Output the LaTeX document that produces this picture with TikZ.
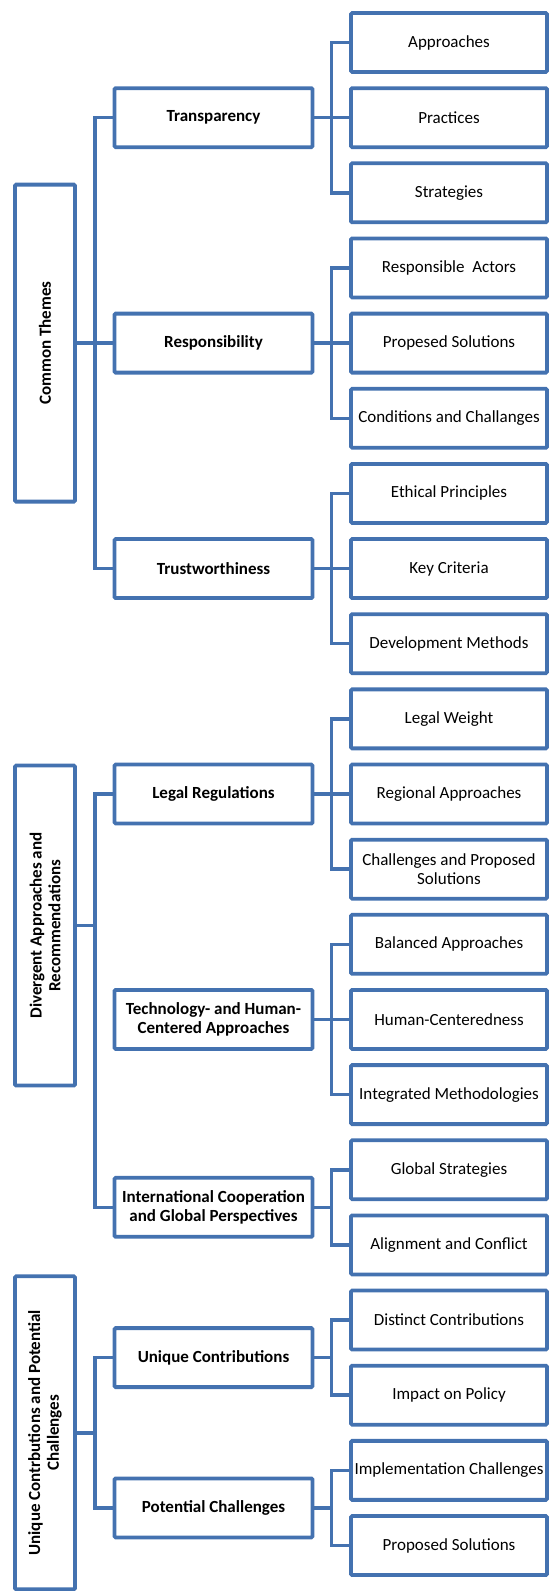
\documentclass[tikz,border=0pt]{standalone}
\usepackage{fontspec}
\setmainfont{Carlito}
\definecolor{boxblue}{RGB}{68,114,176}
\begin{document}
\begin{tikzpicture}[x=1pt,y=-1pt,
  base/.style={draw=boxblue,line width=3.8pt,fill=white,inner sep=0pt,outer sep=0pt,
    align=center,rounded corners=1.2pt,font=\fontsize{17}{18.7}\selectfont},
  leaf/.style={base,minimum width=196pt,minimum height=59pt},
  mid/.style={base,minimum width=198pt,minimum height=59pt,font=\fontsize{17}{18.7}\selectfont\bfseries},
  top/.style={base,rotate=90,minimum height=60pt,font=\fontsize{17}{18.7}\selectfont\bfseries},
  conn/.style={draw=boxblue,line width=3.5pt}]
\useasboundingbox (0,0) rectangle (549,1591);
\def\P{75.15}
% leaves
\node[leaf] (l0) at (449,{42.5+\P*0}) {Approaches};
\node[leaf] (l1) at (449,{42.5+\P*1}) {Practices};
\node[leaf] (l2) at (449,{42.5+\P*2}) {Strategies};
\node[leaf] (l3) at (449,{42.5+\P*3}) {Responsible\ \ Actors};
\node[leaf] (l4) at (449,{42.5+\P*4}) {Propesed Solutions};
\node[leaf] (l5) at (449,{42.5+\P*5}) {Conditions and Challanges};
\node[leaf] (l6) at (449,{42.5+\P*6}) {Ethical Principles};
\node[leaf] (l7) at (449,{42.5+\P*7}) {Key Criteria};
\node[leaf] (l8) at (449,{42.5+\P*8}) {Development Methods};
\node[leaf] (l9) at (449,{42.5+\P*9}) {Legal Weight};
\node[leaf] (l10) at (449,{42.5+\P*10}) {Regional Approaches};
\node[leaf] (l11) at (449,{42.5+\P*11}) {Challenges and Proposed\\Solutions};
\node[leaf] (l12) at (449,{42.5+\P*12}) {Balanced Approaches};
\node[leaf] (l13) at (449,{42.5+\P*13}) {Human-Centeredness};
\node[leaf] (l14) at (449,{42.5+\P*14}) {Integrated Methodologies};
\node[leaf] (l15) at (449,{42.5+\P*15}) {Global Strategies};
\node[leaf] (l16) at (449,{42.5+\P*16}) {Alignment and Conflict};
\node[leaf] (l17) at (449,{42.5+\P*17}) {Distinct Contributions};
\node[leaf] (l18) at (449,{42.5+\P*18}) {Impact on Policy};
\node[leaf] (l19) at (449,{42.5+\P*19}) {Implementation Challenges};
\node[leaf] (l20) at (449,{42.5+\P*20}) {Proposed Solutions};
% middle
\node[mid] (m1) at (213.5,{42.5+\P*1}) {Transparency};
\node[mid] (m2) at (213.5,{42.5+\P*4}) {Responsibility};
\node[mid] (m3) at (213.5,{42.5+\P*7}) {Trustworthiness};
\node[mid] (m4) at (213.5,{42.5+\P*10}) {Legal Regulations};
\node[mid] (m5) at (213.5,{42.5+\P*13}) {Technology- and Human-\\Centered Approaches};
\node[mid] (m6) at (213.5,{42.5+\P*15.5}) {International Cooperation\\and Global Perspectives};
\node[mid] (m7) at (213.5,{42.5+\P*17.5}) {Unique Contributions};
\node[mid] (m8) at (213.5,{42.5+\P*19.5}) {Potential Challenges};
% top level (rotated)
\node[top,minimum width=317pt] (t1) at (45,{42.5+\P*4}) {Common Themes};
\node[top,minimum width=320pt] (t2) at (45,{42.5+\P*11.75}) {Divergent Approaches and\\Recommendations};
\node[top,minimum width=313pt] (t3) at (45,{42.5+\P*18.5}) {Unique Contrbutions and Potential\\Challenges};
% connectors: middle -> leaves
\path (m1.east) ++(19,0) coordinate (b1);
\path (m2.east) ++(19,0) coordinate (b2);
\path (m3.east) ++(19,0) coordinate (b3);
\path (m4.east) ++(19,0) coordinate (b4);
\path (m5.east) ++(19,0) coordinate (b5);
\path (m6.east) ++(19,0) coordinate (b6);
\path (m7.east) ++(19,0) coordinate (b7);
\path (m8.east) ++(19,0) coordinate (b8);
\draw[conn] (l0.west) -| (b1) |- (l2.west); \draw[conn] (m1.east) -- (l1.west);
\draw[conn] (l3.west) -| (b2) |- (l5.west); \draw[conn] (m2.east) -- (l4.west);
\draw[conn] (l6.west) -| (b3) |- (l8.west); \draw[conn] (m3.east) -- (l7.west);
\draw[conn] (l9.west) -| (b4) |- (l11.west); \draw[conn] (m4.east) -- (l10.west);
\draw[conn] (l12.west) -| (b5) |- (l14.west); \draw[conn] (m5.east) -- (l13.west);
\draw[conn] (l15.west) -| (b6) |- (l16.west); \draw[conn] (m6.east) -- (b6);
\draw[conn] (l17.west) -| (b7) |- (l18.west); \draw[conn] (m7.east) -- (b7);
\draw[conn] (l19.west) -| (b8) |- (l20.west); \draw[conn] (m8.east) -- (b8);
% connectors: top -> middle (rotated nodes: right side is .south)
\path (t1.south) ++(20,0) coordinate (c1);
\path (t2.south) ++(20,0) coordinate (c2);
\path (t3.south) ++(20,0) coordinate (c3);
\draw[conn] (m1.west) -| (c1) |- (m3.west); \draw[conn] (t1.south) -- (m2.west);
\draw[conn] (m4.west) -| (c2) |- (m6.west); \draw[conn] (t2.south) -- (c2);
\draw[conn] (m7.west) -| (c3) |- (m8.west); \draw[conn] (t3.south) -- (c3);
\end{tikzpicture}
\end{document}
